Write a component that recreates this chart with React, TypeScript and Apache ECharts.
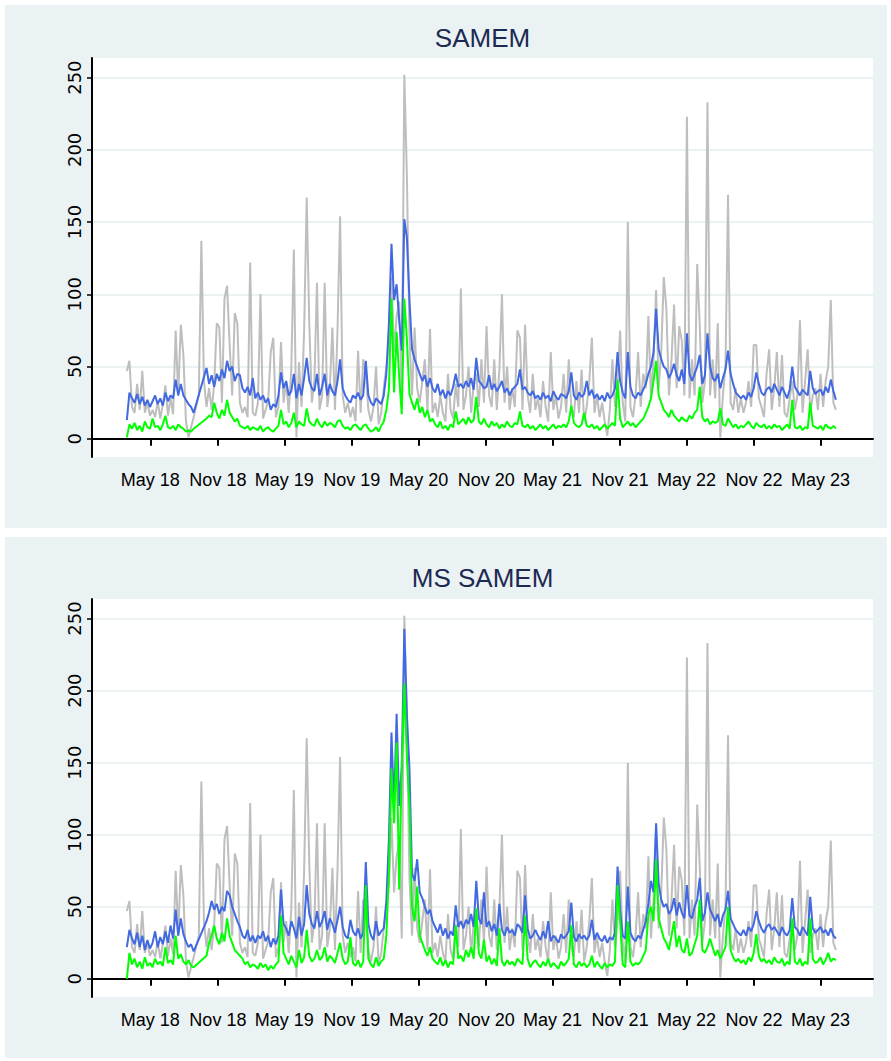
import React, { useEffect, useRef } from "react";
import * as echarts from "echarts";

// ---------- data ----------
const START_DATE = "2018-02-26"; // first weekly observation
const WEEK_COUNT = 277;
const X_MIN = "2017-11-23";
const X_MAX = "2023-09-21";
const TICK_DATES = [
  "2018-05-01", "2018-11-01", "2019-05-01", "2019-11-01", "2020-05-01", "2020-11-01",
  "2021-05-01", "2021-11-01", "2022-05-01", "2022-11-01", "2023-05-01",
];
const TICK_LABELS = [
  "May 18", "Nov 18", "May 19", "Nov 19", "May 20", "Nov 20",
  "May 21", "Nov 21", "May 22", "Nov 22", "May 23",
];
const Y_TICKS = [0, 50, 100, 150, 200, 250];
const TITLES = ["SAMEM", "MS SAMEM"];

// observed (grey) – same in both panels
const OBSERVED = [
  47, 54, 22, 18, 38, 20, 47, 18, 25, 16,
  20, 15, 26, 14, 24, 37, 16, 28, 17, 75,
  30, 79, 58, 12, 1, 8, 15, null, 30, 137,
  40, 22, 35, 20, 38, 80, 77, 25, 97, 106,
  65, 30, 87, 80, 25, 18, 22, 15, 122, 18,
  16, 25, 100, 14, 20, 26, 60, 70, 15, 22,
  67, 25, 40, 18, 48, 131, 1, 53, 22, 75,
  167, 80, 25, 40, 108, 20, 30, 108, 22, 35,
  77, 20, 76, 154, 30, 18, 25, 15, 22, 12,
  61, 18, 55, 45, 20, 12, 22, 50, 10, 18,
  35, 50, 65, 112, 60, 85, 95, 28, 252, 182,
  70, 30, 77, 35, 25, 40, 55, 20, 76, 18,
  25, 15, 30, 18, 12, 45, 20, 14, 38, 22,
  104, 20, 30, 50, 18, 38, 45, 22, 55, 25,
  78, 30, 22, 55, 20, 48, 100, 25, 50, 20,
  35, 22, 75, 70, 20, 79, 30, 18, 45, 20,
  28, 15, 40, 22, 12, 60, 20, 30, 14, 22,
  45, 18, 55, 22, 15, 40, 18, 48, 12, 22,
  40, 70, 18, 30, 15, 25, 12, 2, 20, 55,
  22, 40, 75, 25, 12, 150, 22, 15, 30, 60,
  22, 45, 35, 85, 28, 55, 103, 35, 60, 112,
  90, 30, 55, 93, 35, 78, 68, 30, 223, 28,
  55, 30, 121, 78, 25, 40, 233, 30, 55, 28,
  80, 1, 30, 50, 169, 25, 20, 35, 18, 28,
  18, 25, 40, 22, 65, 65, 28, 22, 15, 45,
  62, 20, 35, 60, 22, 58, 18, 15, 28, 40,
  20, 30, 82, 18, 40, 62, 18, 30, 35, 20,
  45, 22, 40, 50, 96, 25, 20,
];

// SAMEM panel – blue
const SAMEM_BLUE = [
  13, 32, 28, 25, 31, 24, 29, 23, 27, 22,
  26, 30, 24, 28, 23, 32, 26, 30, 28, 41,
  30, 38, 30, 27, 24, 22, 18, null, null, null,
  null, 49, 38, 44, 36, 45, 40, 48, 42, 54,
  47, 50, 40, 45, 44, 35, 32, 36, 30, 42,
  28, 32, 27, 30, 25, 28, 20, 24, 22, 30,
  46, 35, 40, 30, 33, 45, 28, 38, 30, 42,
  56, 40, 35, 33, 45, 30, 36, 45, 30, 38,
  33, 30, 40, 55, 35, 30, 27, 25, 30, 28,
  32, 27, 30, 54, 30, 25, 23, 28, 26, 24,
  30, 45, 80, 135, 96, 107, 82, 61, 152, 139,
  96, 62, 55, 50, 45, 40, 44, 36, 42, 35,
  32, 38, 30, 34, 28, 33, 30, 36, 45, 36,
  38, 35, 40, 36, 42, 34, 56, 40, 38, 35,
  36, 44, 34, 38, 33, 36, 40, 32, 35, 30,
  34, 36, 38, 48, 34, 36, 32, 30, 33, 28,
  30, 27, 32, 28, 30, 26, 33, 29, 27, 31,
  30, 28, 33, 46, 30, 27, 32, 29, 31, 40,
  30, 34, 28, 31, 27, 30, 26, 32, 28, 30,
  35, 60, 40, 32, 28, 60, 36, 30, 28, 32,
  30, 34, 38, 45, 50, 60, 90, 62, 55, 50,
  48, 42, 46, 52, 44, 40, 48, 38, 73, 45,
  40, 45, 50, 58, 38, 44, 73, 50, 42, 40,
  45, 35, 42, 48, 61, 45, 38, 32, 30, 28,
  30, 27, 32, 29, 35, 46, 38, 32, 30, 34,
  36, 32, 38, 34, 30, 36, 32, 28, 34, 50,
  36, 33, 30, 34, 32, 30, 47, 35, 31, 33,
  34, 30, 36, 32, 41, 33, 27,
];

// SAMEM panel – green
const SAMEM_GREEN = [
  1, 10, 7, 11, 6, 9, 5, 12, 8, 7,
  14, 8, 9, 6, 10, 16, 8, 7, 9, 6,
  10, 8, 7, 5, 6, 5, 7, null, null, null,
  null, 14, 16, 15, 25, 18, 14, 20, 16, 27,
  18, 15, 12, 14, 9, 8, 7, 9, 6, 8,
  7, 6, 9, 5, 7, 8, 6, 5, 7, 9,
  20, 10, 12, 8, 11, 18, 8, 12, 10, 9,
  21, 12, 10, 9, 14, 10, 8, 12, 9, 11,
  10, 8, 12, 13, 9, 7, 8, 6, 9, 10,
  8, 6, 9, 10, 7, 5, 6, 8, 5, 9,
  12, 20, 34, 97, 32, 74, 43, 17, 97, 69,
  31, 25, 20, 28, 18, 22, 15, 20, 12, 14,
  10, 8, 12, 7, 9, 6, 10, 8, 19, 10,
  12, 14, 10, 15, 11, 13, 29, 12, 10, 14,
  10, 8, 12, 9, 11, 7, 10, 8, 12, 9,
  8, 11, 10, 19, 9, 8, 10, 7, 9, 6,
  8, 10, 7, 9, 6, 8, 10, 7, 9, 8,
  10, 8, 12, 23, 11, 9, 8, 10, 18, 9,
  8, 10, 7, 9, 6, 8, 10, 7, 9, 11,
  9, 41, 14, 8, 10, 12, 9, 11, 8, 10,
  12, 14, 18, 22, 28, 40, 54, 30, 25, 20,
  18, 15, 20, 16, 14, 12, 15, 13, 12, 16,
  14, 18, 20, 36, 15, 12, 14, 10, 12, 11,
  12, 21, 10, 9, 14, 11, 8, 10, 7, 9,
  8, 10, 12, 9, 7, 11, 9, 8, 10, 7,
  9, 7, 10, 8, 9, 6, 8, 10, 7, 27,
  8, 7, 9, 6, 8, 7, 25, 9, 8, 7,
  9, 6, 10, 8, 7, 9, 7,
];

// MS SAMEM panel – blue
const MS_BLUE = [
  22, 34, 28, 24, 32, 22, 30, 20, 27, 21,
  25, 33, 22, 29, 24, 33, 25, 37, 28, 48,
  30, 42, 31, 26, 22, 24, 19, null, null, null,
  null, 40, 46, 54, 48, 52, 45, 50, 47, 61,
  58, 50, 45, 40, 36, 30, 28, 34, 26, 30,
  25, 30, 28, 33, 26, 30, 22, 28, 24, 30,
  62, 38, 35, 30, 40, 35, 28, 43, 30, 38,
  65, 45, 38, 35, 47, 36, 40, 47, 34, 42,
  38, 32, 41, 50, 36, 30, 28, 41, 33, 30,
  35, 28, 32, 81, 38, 30, 27, 40, 30, 33,
  35, 54, 97, 171, 119, 184, 120, 147, 243, 183,
  146, 73, 68, 83, 60, 56, 50, 45, 48, 40,
  36, 32, 38, 30, 35, 28, 33, 30, 51, 36,
  40, 35, 41, 38, 45, 36, 68, 42, 38, 60,
  36, 40, 33, 38, 30, 52, 34, 30, 36, 32,
  34, 30, 38, 36, 32, 58, 35, 28, 30, 34,
  30, 27, 33, 28, 40, 26, 30, 28, 25, 31,
  28, 30, 33, 53, 29, 26, 31, 28, 30, 27,
  30, 41, 27, 32, 28, 26, 30, 25, 29, 27,
  32, 78, 48, 30, 28, 64, 32, 28, 26, 30,
  28, 34, 40, 52, 68, 60, 108, 66, 55, 50,
  52, 45, 48, 56, 44, 53, 46, 42, 65, 44,
  42, 50, 55, 70, 40, 46, 60, 48, 44, 40,
  45, 36, 44, 48, 61, 42, 38, 34, 32, 30,
  34, 30, 36, 33, 38, 47, 40, 35, 32, 36,
  38, 34, 36, 33, 30, 36, 32, 30, 34, 56,
  36, 34, 30, 36, 33, 30, 57, 35, 32, 34,
  36, 32, 34, 30, 35, 30, 28,
];

// MS SAMEM panel – green
const MS_GREEN = [
  0, 18, 10, 14, 8, 12, 7, 15, 9, 11,
  8, 14, 10, 12, 9, 22, 11, 13, 10, 30,
  14, 17, 12, 10, 13, 9, 8, null, null, null,
  null, 16, 25, 30, 37, 28, 24, 32, 26, 42,
  30, 25, 20, 18, 16, 14, 10, 12, 8, 10,
  9, 7, 11, 8, 10, 6, 9, 7, 10, 12,
  44, 18, 14, 10, 16, 12, 8, 20, 11, 15,
  34, 16, 12, 14, 20, 13, 15, 22, 12, 16,
  14, 11, 18, 25, 14, 10, 12, 29, 11, 9,
  13, 8, 12, 65, 14, 10, 8, 15, 9, 12,
  14, 30, 73, 146, 108, 164, 62, 147, 205, 154,
  120, 50, 40, 64, 30, 25, 20, 16, 22, 14,
  12, 10, 15, 9, 13, 8, 12, 10, 37, 14,
  16, 12, 20, 15, 22, 14, 49, 18, 14, 27,
  12, 16, 10, 14, 9, 35, 12, 9, 13, 10,
  12, 9, 14, 12, 10, 44, 14, 8, 11, 13,
  10, 8, 12, 9, 14, 8, 11, 9, 7, 12,
  9, 11, 14, 37, 10, 8, 12, 9, 11, 8,
  10, 16, 8, 12, 9, 7, 11, 8, 10, 9,
  12, 65, 40, 10, 8, 40, 12, 9, 11, 10,
  12, 16, 20, 45, 50, 40, 83, 42, 35, 28,
  25, 20, 30, 40, 22, 30, 20, 18, 28, 16,
  18, 24, 30, 55, 20, 18, 22, 28, 22, 16,
  20, 14, 18, 22, 50, 20, 15, 12, 14, 11,
  13, 10, 15, 12, 18, 31, 16, 12, 14, 11,
  13, 10, 15, 12, 11, 14, 9, 12, 10, 42,
  12, 10, 14, 9, 12, 10, 42, 14, 11, 12,
  15, 10, 13, 18, 12, 14, 13,
];

// ---------- styling ----------
const BG = "#eaf2f3";
const GRID_LINE = "#eaf2f3";
const GREY = "#bebebe";
const BLUE = "#4169e1";
const GREEN = "#00ff00";
const TITLE_COLOR = "#1c2a52";
const SANS = "'Liberation Sans', Arial, Helvetica, sans-serif";

const DAY = 86400000;
const toTs = (s: string) => new Date(s + "T00:00:00Z").getTime();

function weekDates(): number[] {
  const t0 = toTs(START_DATE);
  const out: number[] = [];
  for (let i = 0; i < WEEK_COUNT; i++) out.push(t0 + i * 7 * DAY);
  return out;
}

export default function App() {
  const ref = useRef<HTMLDivElement>(null);

  useEffect(() => {
    if (!ref.current) return;
    const chart = echarts.init(ref.current, undefined, { renderer: "svg" });
    const dates = weekDates();
    const pair = (arr: (number | null)[]) => dates.map((d, i) => [d, arr[i] === undefined ? null : arr[i]]);
    const tickTs = TICK_DATES.map(toTs);
    const labelFor = (v: number) => {
      let best = 0;
      for (let i = 1; i < tickTs.length; i++) if (Math.abs(tickTs[i] - v) < Math.abs(tickTs[best] - v)) best = i;
      return TICK_LABELS[best];
    };

    const grids = [
      { left: 92, top: 58, right: 18, bottom: 604 },
      { left: 92, top: 599, right: 18, bottom: 64 },
    ];

    const xAxis = grids.map((_, gi) => ({
      type: "value" as const,
      gridIndex: gi,
      min: toTs(X_MIN),
      max: toTs(X_MAX),
      axisLine: { show: true, lineStyle: { color: "#000", width: 2 } },
      axisTick: { show: true, length: 7, customValues: tickTs, lineStyle: { color: "#000", width: 2 } },
      axisLabel: {
        customValues: tickTs,
        formatter: (v: number) => labelFor(v),
        color: "#000",
        fontFamily: SANS,
        fontSize: 18,
        margin: 14,
        hideOverlap: false,
        showMinLabel: true,
        showMaxLabel: true,
      },
      splitLine: { show: false },
    }));

    const yAxis = grids.map((_, gi) => ({
      type: "value" as const,
      gridIndex: gi,
      min: -12.6,
      max: 263.6,
      axisLine: { show: true, lineStyle: { color: "#000", width: 2 } },
      axisTick: { show: true, length: 5, customValues: Y_TICKS, lineStyle: { color: "#000", width: 1.5 } },
      axisLabel: {
        customValues: Y_TICKS,
        rotate: 90,
        color: "#000",
        fontFamily: "'DejaVu Sans', sans-serif",
        fontSize: 18,
        margin: 9,
        showMinLabel: true,
        showMaxLabel: true,
      },
      splitLine: { show: true, lineStyle: { color: GRID_LINE, width: 2 } },
    }));

    const mk = (data: (number | null)[], color: string, gi: number, name: string) => ({
      name,
      type: "line" as const,
      xAxisIndex: gi,
      yAxisIndex: gi,
      data: pair(data),
      showSymbol: false,
      symbol: "none",
      connectNulls: true,
      lineStyle: { color, width: 2 },
      itemStyle: { color },
      emphasis: { disabled: true },
    });

    chart.setOption({
      animation: false,
      backgroundColor: "transparent",
      grid: grids.map((g) => ({ ...g, show: true, backgroundColor: "#ffffff", borderWidth: 0 })),
      xAxis,
      yAxis,
      graphic: TITLES.map((t, i) => ({
        type: "text",
        x: 482.5,
        y: i === 0 ? 38 : 578,
        style: {
          text: t,
          fill: TITLE_COLOR,
          font: `26px ${SANS}`,
          textAlign: "center",
          textVerticalAlign: "middle",
        },
      })),
      series: [
        mk(OBSERVED, GREY, 0, "Observed"),
        mk(SAMEM_BLUE, BLUE, 0, "SAMEM blue"),
        mk(SAMEM_GREEN, GREEN, 0, "SAMEM green"),
        mk(OBSERVED, GREY, 1, "Observed"),
        mk(MS_BLUE, BLUE, 1, "MS SAMEM blue"),
        mk(MS_GREEN, GREEN, 1, "MS SAMEM green"),
      ],
    });

    return () => chart.dispose();
  }, []);

  return (
    <div style={{ position: "absolute", left: 0, top: 0, width: 891, height: 1061, background: "#fff" }}>
      <div style={{ position: "absolute", left: 5, top: 5, width: 882, height: 523, background: BG }} />
      <div style={{ position: "absolute", left: 5, top: 537, width: 882, height: 521, background: BG }} />
      <div ref={ref} style={{ position: "absolute", left: 0, top: 0, width: 891, height: 1061 }} />
    </div>
  );
}
